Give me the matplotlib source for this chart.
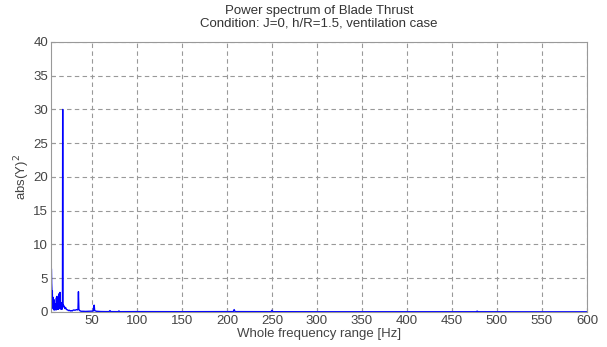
import matplotlib
matplotlib.use("Agg")
import matplotlib.pyplot as plt

plt.rcParams['font.family'] = ['Liberation Sans', 'DejaVu Sans']

# power spectrum (Hz, abs(Y)^2)
freq = [5.0, 5.25, 5.5, 5.75, 6.0, 6.25, 6.5, 6.75, 7.0, 7.25, 7.5, 7.75, 8.0, 8.25,
        8.5, 8.75, 9.0, 9.25, 9.5, 9.75, 10.0, 10.25, 10.5, 10.75, 11.0, 11.25, 11.5,
        11.75, 12.0, 12.25, 12.5, 12.75, 13.0, 13.25, 13.5, 13.75, 14.0, 14.25, 14.5,
        14.75, 15.0, 15.25, 15.5, 15.75, 16.0, 16.25, 16.5, 16.75, 17.0, 17.25, 17.5,
        17.75, 18.0, 18.5, 19.0, 19.5, 20.0, 20.5, 21.0, 21.5, 22.0, 23.0, 24.0, 25.0,
        26.0, 27.0, 28.0, 29.0, 30.0, 31.0, 32.0, 33.0, 34.0, 34.5, 35.0, 35.5, 36.0,
        37.0, 38.0, 40.0, 43.0, 46.0, 50.0, 51.5, 52.0, 52.5, 53.0, 55.0, 60.0, 65.0,
        69.0, 70.0, 71.0, 79.0, 80.0, 81.0, 100.0, 150.0, 200.0, 207.0, 208.0, 209.0,
        249.0, 250.0, 251.0, 300.0, 350.0, 400.0, 477.0, 478.0, 479.0, 550.0, 600.0]
power = [6.3, 4.2, 3.4, 1.2, 3.1, 0.6, 2.2, 0.9, 1.5, 0.4, 0.9, 0.3, 1.8, 0.5,
         0.7, 0.3, 1.2, 0.4, 0.5, 0.8, 0.9, 0.3, 2.1, 0.6, 2.3, 0.5, 0.8,
         0.4, 1.6, 0.6, 1.0, 0.4, 2.5, 0.7, 2.7, 0.5, 1.2, 0.6, 2.9, 0.7,
         0.9, 0.5, 1.4, 0.4, 0.8, 0.5, 1.1, 0.4, 0.6, 1.0, 30.0,
         0.9, 0.9, 1.0, 0.7, 0.8, 0.5, 0.6, 0.6, 0.4, 0.35, 0.3, 0.2, 0.25,
         0.15, 0.2, 0.15, 0.25, 0.3, 0.25, 0.3, 0.35, 0.3, 0.4, 3.0, 0.4, 0.25,
         0.15, 0.1, 0.1, 0.08, 0.1, 0.12, 0.15, 0.9, 1.0, 0.2, 0.1, 0.06, 0.05,
         0.05, 0.2, 0.05, 0.04, 0.15, 0.04, 0.05, 0.04, 0.05, 0.05, 0.35, 0.05,
         0.04, 0.25, 0.04, 0.03, 0.03, 0.03, 0.03, 0.12, 0.03, 0.02, 0.02]

fig = plt.figure(figsize=(6.07, 3.47), dpi=100)
ax = fig.add_axes([0.084, 0.101, 0.883, 0.778])

ax.plot(freq, power, color='#0000ff', lw=1.0)

ax.set_xlim(4.5, 600)
ax.set_ylim(0, 40)
ax.set_xticks(range(50, 601, 50))
ax.set_yticks(range(0, 41, 5))
ax.grid(True, linestyle=(0, (4, 3)), color='#999999', lw=0.8)
for s in ax.spines.values():
    s.set_color('#999999')
ax.tick_params(direction='in', length=3, colors='#999999', labelcolor='#444444', labelsize=9.5, pad=2)

ax.set_xlabel('Whole frequency range [Hz]', fontsize=9.5, color='#444444', labelpad=1)
ax.set_ylabel('abs(Y)$^2$', fontsize=9.5, color='#444444', labelpad=1)
ax.set_title('Power spectrum of Blade Thrust\nCondition: J=0, h/R=1.5, ventilation case',
             fontsize=9.5, color='#333333', pad=11, linespacing=1.1)

fig.savefig('out.png', dpi=100)
